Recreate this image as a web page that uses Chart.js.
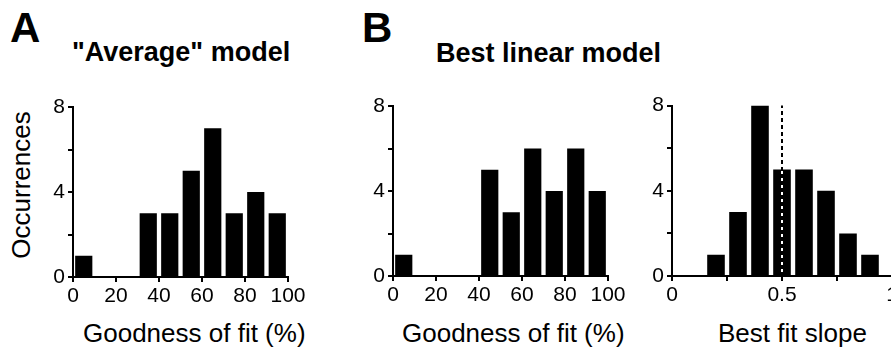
<!DOCTYPE html>
<html lang="en">
<head>
    <meta charset="UTF-8">
    <title>Goodness of fit histograms</title>
    <script src="https://cdn.jsdelivr.net/npm/chart.js"></script>
    <style>
        html, body { margin: 0; padding: 0; background: #fff; overflow: hidden; width: 891px; height: 348px; }
        body { position: relative; font-family: "Liberation Sans", Arial, Helvetica, sans-serif; color: #000; }
        canvas { position: absolute; }
        .txt { position: absolute; line-height: 1; white-space: nowrap; }
        .letter { font-size: 42px; font-weight: bold; }
        .head { font-size: 27px; font-weight: bold; }
        .axt { font-size: 26px; }
    </style>
</head>
<body>
    <div class="txt letter" style="left:10px; top:7px;">A</div>
    <div class="txt letter" style="left:362px; top:7px;">B</div>
    <div class="txt head" style="left:72px; top:39px;">"Average" model</div>
    <div class="txt head" style="left:436px; top:40px;">Best linear model</div>
    <div class="txt axt" style="left:21px; top:185px; transform: translate(-50%, -50%) rotate(-90deg);">Occurrences</div>
    <div class="txt axt" style="left:83px; top:320px;">Goodness of fit (%)</div>
    <div class="txt axt" style="left:402px; top:320px;">Goodness of fit (%)</div>
    <div class="txt axt" style="left:718px; top:320px;">Best fit slope</div>

    <canvas id="chartA" width="320" height="230" style="left:0px; top:90px;"></canvas>
    <canvas id="chartB" width="320" height="230" style="left:320px; top:90px;"></canvas>
    <canvas id="chartC" width="320" height="230" style="left:600px; top:90px;"></canvas>

    <script>
        // histogram bins (centres) and counts
        const fitBins = [5, 15, 25, 35, 45, 55, 65, 75, 85, 95];
        const avgCounts = [1, 0, 0, 3, 3, 5, 7, 3, 4, 3];
        const linCounts = [1, 0, 0, 0, 5, 3, 6, 4, 6, 4];
        const slopeBins = [0.2, 0.3, 0.4, 0.5, 0.6, 0.7, 0.8, 0.9];
        const slopeCounts = [1, 3, 8, 5, 5, 4, 2, 1];
        const refSlope = 0.5;

        // tick labels
        const yTickLabels = [0, 4, 8];
        const fitTickLabels = [0, 20, 40, 60, 80, 100];
        const slopeTickLabels = [0, 0.5, 1];

        Chart.defaults.font.family = '"Liberation Sans", Arial, Helvetica, sans-serif';
        Chart.defaults.color = '#000';

        function pts(xs, ys) {
            return xs.map((x, i) => ({ x: x, y: ys[i] }));
        }

        function axisOpts(extra) {
            return Object.assign({
                grid: { drawOnChartArea: false, drawTicks: true, tickLength: 5, color: '#000', lineWidth: 2, offset: false },
                border: { display: true, color: '#000', width: 2 }
            }, extra);
        }

        function makeOpts(o) {
            return {
                responsive: false,
                animation: false,
                layout: { padding: { top: o.padTop, right: o.padRight, left: 0, bottom: 0 } },
                plugins: { legend: { display: false }, tooltip: { enabled: false } },
                scales: {
                    x: axisOpts({
                        type: 'linear', offset: false, min: o.xMin, max: o.xMax,
                        ticks: {
                            stepSize: o.xStep, padding: 2, font: { size: 21 }, maxRotation: 0, autoSkip: false,
                            callback: v => o.xLabels.includes(v) ? String(v) : ''
                        },
                        afterFit: s => { s.height = o.xHeight; }
                    }),
                    y: axisOpts({
                        min: 0, max: 8,
                        ticks: {
                            stepSize: 2, padding: 3, font: { size: 21 },
                            callback: v => yTickLabels.includes(v) ? String(v) : ''
                        },
                        afterFit: s => { s.width = o.yWidth; }
                    })
                }
            };
        }

        function barSet(xs, ys) {
            return {
                type: 'bar',
                data: pts(xs, ys),
                backgroundColor: '#000',
                borderWidth: 0,
                barPercentage: 0.8,
                categoryPercentage: 1.0,
                order: 3
            };
        }

        new Chart(document.getElementById('chartA'), {
            type: 'bar',
            data: { datasets: [barSet(fitBins, avgCounts)] },
            options: makeOpts({ padTop: 17, padRight: 32, xHeight: 43, yWidth: 73, xMin: 0, xMax: 100, xStep: 20, xLabels: fitTickLabels })
        });

        new Chart(document.getElementById('chartB'), {
            type: 'bar',
            data: { datasets: [barSet(fitBins, linCounts)] },
            options: makeOpts({ padTop: 16, padRight: 32, xHeight: 44, yWidth: 73, xMin: 0, xMax: 100, xStep: 20, xLabels: fitTickLabels })
        });

        new Chart(document.getElementById('chartC'), {
            type: 'bar',
            data: {
                datasets: [
                    {
                        type: 'line',
                        data: [{ x: refSlope, y: 0 }, { x: refSlope, y: 8 }],
                        borderColor: '#000', borderWidth: 2, borderDash: [4, 3],
                        pointRadius: 0, clip: false, order: 1
                    },
                    {
                        type: 'line',
                        data: [{ x: refSlope, y: 0 }, { x: refSlope, y: 8 }],
                        borderColor: '#fff', borderWidth: 2,
                        pointRadius: 0, clip: false, order: 2
                    },
                    barSet(slopeBins, slopeCounts)
                ]
            },
            options: makeOpts({ padTop: 14, padRight: 28, xHeight: 44, yWidth: 72, xMin: 0, xMax: 1, xStep: 0.25, xLabels: slopeTickLabels })
        });
    </script>
</body>
</html>
